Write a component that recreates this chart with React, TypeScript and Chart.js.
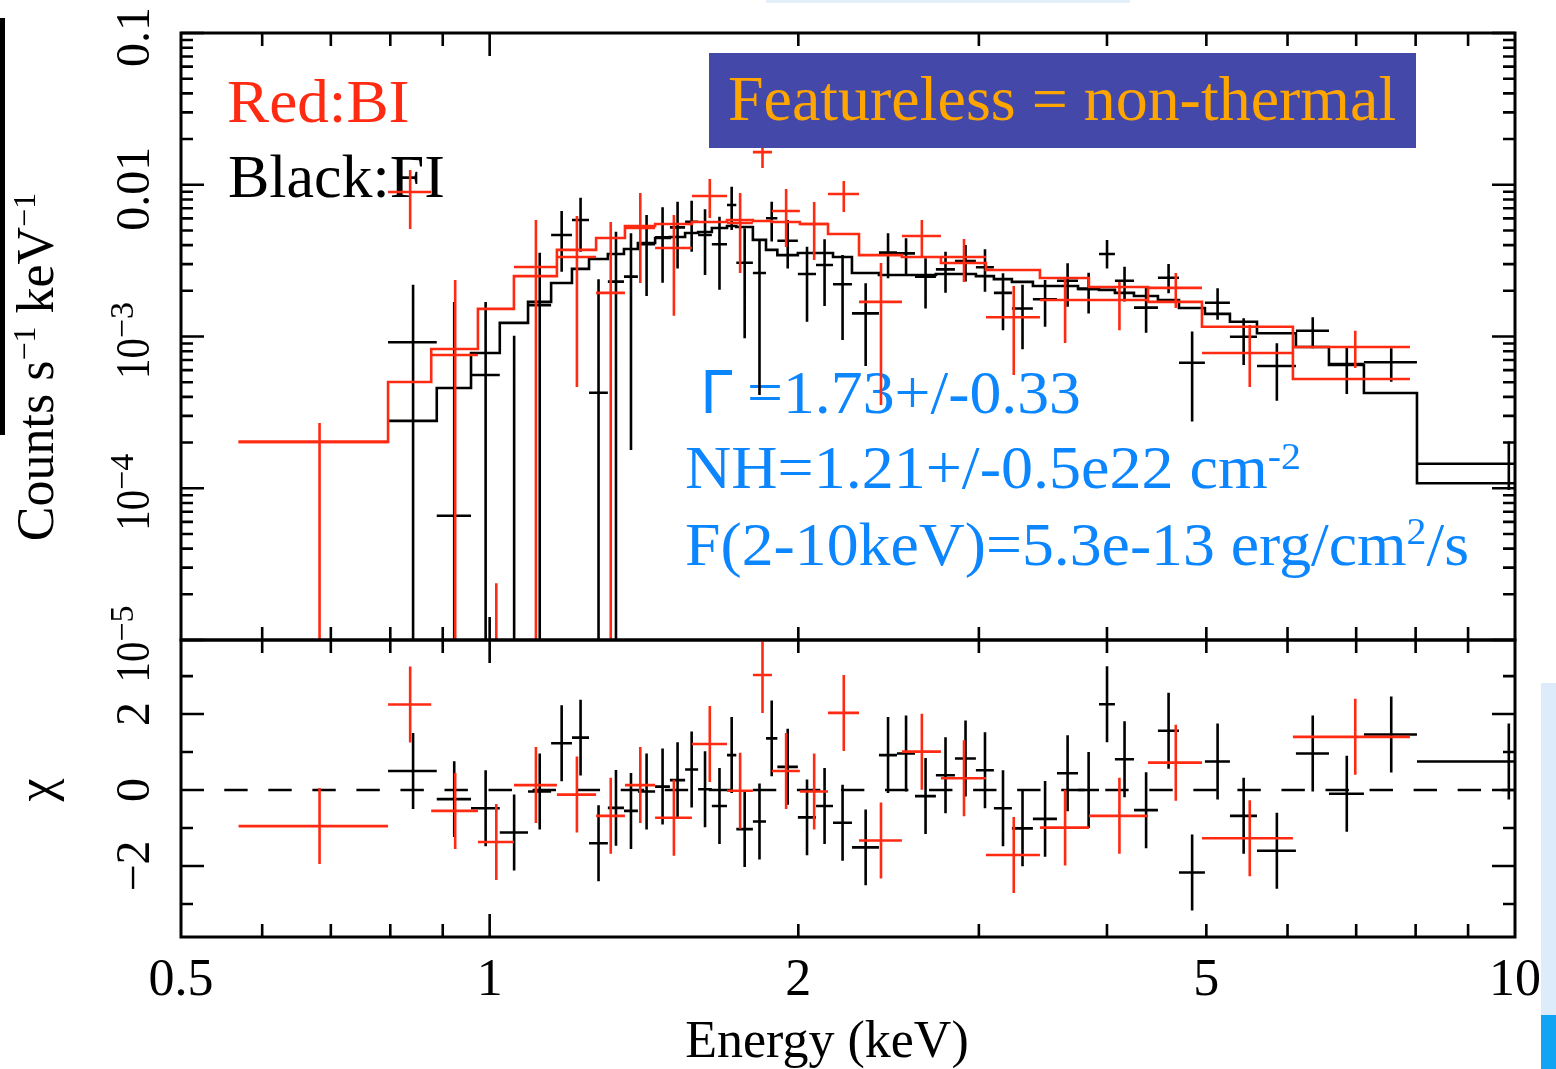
import React, { useEffect, useRef } from 'react';
import { Chart, registerables } from 'chart.js';

Chart.register(...registerables);

// ---------------- axis ranges & ticks ----------------
const ENERGY_MIN = 0.5;
const ENERGY_MAX = 10;
const RATE_MIN = 1e-5;
const RATE_MAX = 0.1;
const CHI_MIN = -3.87;
const CHI_MAX = 3.95;

const X_TICK_VALUES = [0.5, 1, 2, 5, 10];
const X_TICK_LABELS = ['0.5', '1', '2', '5', '10'];
const X_MAJOR_TICKS = [1];
const X_MINOR_TICKS = [0.6, 0.7, 0.8, 0.9, 2, 3, 4, 5, 6, 7, 8, 9];

const RATE_TICK_VALUES = [0.1, 0.01, 1e-3, 1e-4, 1e-5];
const RATE_TICK_LABELS = ['0.1', '0.01', '10^−3', '10^−4', '10^−5'];
const RATE_MINOR_MULTIPLIERS = [2, 3, 4, 5, 6, 7, 8, 9];

const CHI_TICK_VALUES = [2, 0, -2];
const CHI_TICK_LABELS = ['2', '0', '−2'];
const CHI_MINOR_TICKS = [-3, -1, 1, 3];
const CHI_ZERO_LINE_E = [0.551, 10];

// ---------------- BI (red) spectrum ----------------
const RED_EDGES = [0.569, 0.796, 0.877, 0.974, 1.056, 1.163, 1.270, 1.355, 1.450, 1.575, 1.704, 1.806, 1.885,
  2.007, 2.138, 2.292, 2.524, 2.755, 3.048, 3.441, 3.841, 4.386, 4.951, 6.073, 7.898];
const RED_RATE = [2.02e-4, 8.96e-3, 7.55e-4, 1e-6, 2.87e-3, 3.34e-3, 1.94e-3, 5.19e-3, 3.83e-3, 8.43e-3, 5.60e-3,
  1.64e-2, 6.71e-3, 5.51e-3, 8.69e-3, 1.69e-3, 4.60e-3, 3.34e-3, 1.34e-3, 1.74e-3, 1.74e-3, 2.09e-3, 7.78e-4, 8.52e-4];
const RED_ERR_LOW = [1e-6, 5.11e-3, 1e-6, 1e-6, 1e-6, 4.65e-4, 1e-6, 2.25e-3, 1.37e-3, 6.04e-3, 2.62e-3,
  1.29e-2, 3.89e-3, 3.19e-3, 6.61e-3, 3.54e-4, 3.29e-3, 2.29e-3, 5.58e-4, 9.06e-4, 1.10e-3, 1.54e-3, 4.65e-4, 6.20e-4];
const RED_ERR_HIGH = [2.69e-4, 1.25e-2, 2.36e-3, 2.37e-5, 5.86e-3, 6.22e-3, 5.68e-3, 8.82e-3, 6.32e-3, 1.09e-2, 8.82e-3,
  1.94e-2, 9.38e-3, 7.70e-3, 1.06e-2, 3.05e-3, 5.86e-3, 4.39e-3, 2.15e-3, 2.43e-3, 2.29e-3, 2.62e-3, 1.19e-3, 1.09e-3];
const RED_MODEL = [2.02e-4, 5.01e-4, 8.27e-4, 1.52e-3, 2.50e-3, 3.72e-3, 4.46e-3, 5.35e-3, 5.51e-3, 5.68e-3, 5.86e-3,
  5.77e-3, 5.68e-3, 5.51e-3, 4.74e-3, 3.44e-3, 3.34e-3, 3.05e-3, 2.74e-3, 2.43e-3, 2.12e-3, 1.69e-3, 1.16e-3, 5.25e-4];
const RED_CHI = [-0.95, 2.25, -0.55, -1.37, 0.13, -0.12, -0.68, 0.13, -0.73, 1.21, -0.02, 3.03, 0.5, -0.04, 2.03,
  -1.33, 1.01, 0.31, -1.71, -0.99, -0.68, 0.72, -1.27, 1.4];

// ---------------- FI (black) spectrum ----------------
const BLACK_EDGES = [0.796, 0.888, 0.959, 1.023, 1.090, 1.148, 1.203, 1.250, 1.304, 1.352, 1.395, 1.450, 1.499,
  1.551, 1.597, 1.647, 1.704, 1.740, 1.806, 1.860, 1.908, 1.998, 2.081, 2.162, 2.256, 2.397, 2.496, 2.599, 2.724,
  2.843, 2.980, 3.103, 3.231, 3.387, 3.575, 3.748, 3.929, 4.072, 4.250, 4.485, 4.702, 4.984, 5.272, 5.602, 6.114,
  6.585, 7.123, 8.024, 11.7];
const BLACK_RATE = [9.16e-4, 6.59e-5, 5.58e-4, 1e-6, 1.61e-3, 4.67e-3, 5.86e-3, 4.26e-4, 2.30e-3, 2.48e-3, 4.05e-3,
  4.51e-3, 5.24e-3, 5.71e-3, 4.67e-3, 4.05e-3, 7.35e-3, 3.06e-3, 2.62e-3, 6.01e-3, 4.28e-3, 2.58e-3, 2.96e-3,
  2.21e-3, 1.42e-3, 3.57e-3, 3.53e-3, 2.48e-3, 2.77e-3, 3.14e-3, 2.86e-3, 1.94e-3, 1.53e-3, 1.76e-3, 2.33e-3,
  2.06e-3, 3.50e-3, 2.33e-3, 1.55e-3, 2.44e-3, 6.72e-4, 1.67e-3, 9.97e-4, 6.39e-4, 1.09e-3, 6.59e-4, 6.76e-4, 1.45e-4];
const BLACK_ERR_LOW = [1e-6, 1e-6, 1e-6, 1e-6, 1e-6, 2.67e-3, 3.62e-3, 1e-6, 1e-6, 1.79e-4, 1.85e-3, 2.26e-3,
  2.81e-3, 3.62e-3, 2.54e-3, 2.03e-3, 5.03e-3, 9.73e-4, 4.12e-4, 4.22e-3, 2.81e-3, 1.25e-3, 1.59e-3, 9.48e-4,
  6.39e-4, 2.42e-3, 2.54e-3, 1.53e-3, 1.94e-3, 2.30e-3, 1.97e-3, 1.10e-3, 8.23e-4, 1.16e-3, 1.57e-3, 1.42e-3,
  2.81e-3, 1.70e-3, 1.06e-3, 1.93e-3, 2.75e-4, 1.29e-3, 6.49e-4, 3.77e-4, 8.36e-4, 4.18e-4, 5.04e-4, 9.74e-5];
const BLACK_ERR_HIGH = [2.19e-3, 1.69e-3, 1.69e-3, 1.01e-3, 3.57e-3, 6.71e-3, 8.22e-3, 2.38e-3, 4.91e-3, 4.79e-3,
  6.32e-3, 7.10e-3, 7.73e-3, 7.85e-3, 6.89e-3, 6.16e-3, 9.71e-3, 5.16e-3, 4.33e-3, 7.73e-3, 5.86e-3, 3.91e-3,
  4.37e-3, 3.44e-3, 2.24e-3, 4.79e-3, 4.44e-3, 3.28e-3, 3.62e-3, 4.01e-3, 3.76e-3, 2.61e-3, 2.19e-3, 2.36e-3,
  3.04e-3, 2.63e-3, 4.33e-3, 2.88e-3, 2.13e-3, 3.01e-3, 1.08e-3, 2.08e-3, 1.32e-3, 9.02e-4, 1.34e-3, 8.57e-4,
  8.36e-4, 2.03e-4];
const BLACK_MODEL = [2.78e-4, 4.58e-4, 7.78e-4, 1.23e-3, 1.69e-3, 2.25e-3, 2.79e-3, 3.24e-3, 3.50e-3, 3.77e-3,
  4.13e-3, 4.46e-3, 4.53e-3, 4.81e-3, 4.88e-3, 5.19e-3, 5.35e-3, 5.27e-3, 4.33e-3, 3.72e-3, 3.44e-3, 3.55e-3,
  3.55e-3, 3.34e-3, 2.62e-3, 2.54e-3, 2.54e-3, 2.54e-3, 2.58e-3, 2.58e-3, 2.50e-3, 2.39e-3, 2.29e-3, 2.15e-3,
  2.15e-3, 2.06e-3, 2.03e-3, 1.94e-3, 1.85e-3, 1.74e-3, 1.54e-3, 1.41e-3, 1.25e-3, 1.05e-3, 8.52e-4, 6.49e-4,
  4.24e-4, 1.08e-4];
const BLACK_CHI = [0.5, -0.24, -0.48, -1.12, -0.04, 1.23, 1.38, -1.4, -0.47, -0.55, -0.04, 0.09, 0.26, 0.54, 0.02,
  -0.42, 0.92, -1.03, -0.83, 1.36, 0.61, -0.72, -0.42, -0.86, -1.51, 0.92, 0.96, -0.16, 0.39, 0.83, 0.52, -0.48,
  -1.01, -0.76, 0.44, 0.0, 2.26, 0.81, -0.53, 1.56, -2.17, 0.75, -0.68, -1.6, 0.96, -0.1, 1.46, 0.75];

// ---------------- texts ----------------
const LABEL_RED = 'Red:BI';
const LABEL_BLACK = 'Black:FI';
const BOX_TEXT = 'Featureless = non-thermal';
const FIT_GAMMA = ['Γ', '=1.73+/-0.33'];
const FIT_NH = ['NH=1.21+/-0.5e22 cm', '-2'];
const FIT_FLUX = ['F(2-10keV)=5.3e-13 erg/cm', '2', '/s'];
const Y_TITLE = ['Counts s', '−1', ' keV', '−1'];
const CHI_TITLE = 'χ';
const X_TITLE = 'Energy (keV)';

// ---------------- styling ----------------
const SERIF = '"Liberation Serif", "Times New Roman", Times, serif';
const SANS = '"DejaVu Sans", "Liberation Sans", sans-serif';
const RED = '#ff2a12';
const BLACK = '#000000';
const BLUE = '#0c86ff';
const ORANGE = '#ffa500';
const BOX_FILL = '#4448a8';

const font = (px: number, family = SERIF) => `${px}px ${family}`;

type Part = { text: string; size: number; rise?: number; sx?: number; family?: string };

function partsWidth(ctx: CanvasRenderingContext2D, parts: Part[]) {
  let w = 0;
  for (const p of parts) {
    ctx.font = font(p.size, p.family);
    w += ctx.measureText(p.text).width * (p.sx ?? 1);
  }
  return w;
}

function drawParts(ctx: CanvasRenderingContext2D, parts: Part[], x: number, y: number, center = false) {
  ctx.textAlign = 'left';
  ctx.textBaseline = 'alphabetic';
  let cx = center ? x - partsWidth(ctx, parts) / 2 : x;
  for (const p of parts) {
    ctx.font = font(p.size, p.family);
    const w = ctx.measureText(p.text).width * (p.sx ?? 1);
    ctx.save();
    ctx.translate(cx, y - (p.rise ?? 0));
    ctx.scale(p.sx ?? 1, 1);
    ctx.fillText(p.text, 0, 0);
    ctx.restore();
    cx += w;
  }
}

function drawRotated(ctx: CanvasRenderingContext2D, x: number, y: number, fn: () => void) {
  ctx.save();
  ctx.translate(x, y);
  ctx.rotate(-Math.PI / 2);
  fn();
  ctx.restore();
}

function tickLabelParts(label: string): Part[] {
  if (label.includes('^')) {
    const [base, exp] = label.split('^');
    return [
      { text: base, size: 48, sx: 0.85 },
      { text: exp, size: 34, rise: 16 },
    ];
  }
  return [{ text: label, size: 48 }];
}

function drawFrameAndTicks(chart: any, yMajor: number[], yMinor: number[]) {
  const { ctx, chartArea: a, scales } = chart;
  const xs = scales.x;
  const ys = scales.y;
  ctx.save();
  ctx.strokeStyle = BLACK;
  ctx.lineCap = 'butt';
  ctx.lineWidth = 2.6;
  ctx.beginPath();
  const vTick = (v: number, len: number) => {
    const px = xs.getPixelForValue(v);
    ctx.moveTo(px, a.bottom);
    ctx.lineTo(px, a.bottom - len);
    ctx.moveTo(px, a.top);
    ctx.lineTo(px, a.top + len);
  };
  const hTick = (v: number, len: number) => {
    const py = ys.getPixelForValue(v);
    ctx.moveTo(a.left, py);
    ctx.lineTo(a.left + len, py);
    ctx.moveTo(a.right, py);
    ctx.lineTo(a.right - len, py);
  };
  X_MAJOR_TICKS.forEach((v) => vTick(v, 23));
  X_MINOR_TICKS.forEach((v) => vTick(v, 13));
  yMajor.forEach((v) => hTick(v, 23));
  yMinor.forEach((v) => hTick(v, 12));
  ctx.stroke();
  ctx.lineWidth = 3;
  ctx.strokeRect(a.left, a.top, a.right - a.left, a.bottom - a.top);
  ctx.restore();
}

function crossPoints(edges: number[], values: number[], low: number[], high: number[]) {
  const pts: { x: number; y: number | null }[] = [];
  values.forEach((v, i) => {
    const lo = edges[i];
    const hi = edges[i + 1];
    const mid = (lo + hi) / 2;
    pts.push({ x: lo, y: v }, { x: hi, y: v }, { x: hi, y: null });
    pts.push({ x: mid, y: low[i] }, { x: mid, y: high[i] }, { x: mid, y: null });
  });
  return pts;
}

function stepPoints(edges: number[], model: number[]) {
  const pts = model.map((m, i) => ({ x: edges[i], y: m }));
  pts.push({ x: edges[edges.length - 1], y: model[model.length - 1] });
  return pts;
}

const lineDs = (data: any[], color: string, extra: any = {}) => ({
  type: 'line',
  data,
  borderColor: color,
  backgroundColor: color,
  borderWidth: 2.6,
  pointRadius: 0,
  pointHoverRadius: 0,
  tension: 0,
  fill: false,
  spanGaps: false,
  borderCapStyle: 'butt',
  borderJoinStyle: 'miter',
  clip: 1,
  ...extra,
});

const W = 1556;
const H = 1069;

export default function App() {
  const topRef = useRef<HTMLCanvasElement>(null);
  const botRef = useRef<HTMLCanvasElement>(null);

  useEffect(() => {
    const rateMinor: number[] = [];
    RATE_TICK_VALUES.forEach((d) => {
      if (d < RATE_MAX) RATE_MINOR_MULTIPLIERS.forEach((m) => rateMinor.push(d * m));
    });

    const topPlugin = {
      id: 'topDecor',
      beforeDatasetsDraw(chart: any) {
        const { ctx, scales } = chart;
        ctx.save();
        ctx.fillStyle = BLACK;
        // y tick labels (rotated)
        RATE_TICK_VALUES.forEach((v, i) => {
          const py = scales.y.getPixelForValue(v) + 4;
          drawRotated(ctx, 149, py, () => drawParts(ctx, tickLabelParts(RATE_TICK_LABELS[i]), 0, 0, true));
        });
        // y title
        drawRotated(ctx, 53, 367, () =>
          drawParts(ctx, [
            { text: Y_TITLE[0], size: 52 },
            { text: Y_TITLE[1], size: 32, rise: 18 },
            { text: Y_TITLE[2], size: 52 },
            { text: Y_TITLE[3], size: 32, rise: 18 },
          ], 0, 0, true));
        // legend texts
        ctx.fillStyle = RED;
        drawParts(ctx, [{ text: LABEL_RED, size: 62, sx: 1.02 }], 227, 122);
        ctx.fillStyle = BLACK;
        drawParts(ctx, [{ text: LABEL_BLACK, size: 62 }], 228, 197);
        // fit parameters
        ctx.fillStyle = BLUE;
        drawParts(ctx, [{ text: FIT_GAMMA[0], size: 58, family: SANS }], 700, 413);
        drawParts(ctx, [{ text: FIT_GAMMA[1], size: 61, sx: 1.045 }], 747, 413);
        drawParts(ctx, [
          { text: FIT_NH[0], size: 61, sx: 1.05 },
          { text: FIT_NH[1], size: 38, rise: 19, sx: 1.05 },
        ], 685, 488);
        drawParts(ctx, [
          { text: FIT_FLUX[0], size: 61, sx: 1.045 },
          { text: FIT_FLUX[1], size: 38, rise: 21, sx: 1.045 },
          { text: FIT_FLUX[2], size: 61, sx: 1.045 },
        ], 685, 565);
        ctx.restore();
      },
      afterDatasetsDraw(chart: any) {
        const { ctx } = chart;
        ctx.save();
        ctx.fillStyle = BOX_FILL;
        ctx.fillRect(709, 53, 707, 95);
        ctx.fillStyle = ORANGE;
        drawParts(ctx, [{ text: BOX_TEXT, size: 63, sx: 1.015 }], 728, 120);
        ctx.restore();
        drawFrameAndTicks(chart, RATE_TICK_VALUES, rateMinor);
      },
    };

    const botPlugin = {
      id: 'botDecor',
      beforeDatasetsDraw(chart: any) {
        const { ctx, scales } = chart;
        ctx.save();
        ctx.fillStyle = BLACK;
        CHI_TICK_VALUES.forEach((v, i) => {
          const py = scales.y.getPixelForValue(v);
          drawRotated(ctx, 149, py, () => drawParts(ctx, [{ text: CHI_TICK_LABELS[i], size: 48 }], 0, 0, true));
        });
        drawRotated(ctx, 53, 790, () => drawParts(ctx, [{ text: CHI_TITLE, size: 52 }], 0, 0, true));
        X_TICK_VALUES.forEach((v, i) => {
          const px = scales.x.getPixelForValue(v);
          drawParts(ctx, [{ text: X_TICK_LABELS[i], size: 52 }], px, 995, true);
        });
        drawParts(ctx, [{ text: X_TITLE, size: 52 }], 827, 1057, true);
        ctx.restore();
      },
      afterDatasetsDraw(chart: any) {
        drawFrameAndTicks(chart, CHI_TICK_VALUES, CHI_MINOR_TICKS);
      },
    };

    const common = (padding: any, yScale: any) => ({
      responsive: false,
      maintainAspectRatio: false,
      animation: false,
      devicePixelRatio: 1,
      events: [],
      layout: { padding },
      plugins: { legend: { display: false }, tooltip: { enabled: false }, title: { display: false } },
      scales: {
        x: { type: 'logarithmic', min: ENERGY_MIN, max: ENERGY_MAX, display: false },
        y: yScale,
      },
    });

    const top = new Chart(topRef.current as HTMLCanvasElement, {
      type: 'line',
      data: {
        datasets: [
          lineDs(stepPoints(RED_EDGES, RED_MODEL), RED, { stepped: 'before' }),
          lineDs(crossPoints(RED_EDGES, RED_RATE, RED_ERR_LOW, RED_ERR_HIGH), RED),
          lineDs(stepPoints(BLACK_EDGES, BLACK_MODEL), BLACK, { stepped: 'before' }),
          lineDs(crossPoints(BLACK_EDGES, BLACK_RATE, BLACK_ERR_LOW, BLACK_ERR_HIGH), BLACK),
        ] as any,
      },
      options: common({ left: 181, top: 33, right: W - 1515, bottom: H - 640 },
        { type: 'logarithmic', min: RATE_MIN, max: RATE_MAX, display: false }) as any,
      plugins: [topPlugin],
    });

    const chiLow = (c: number[]) => c.map((v) => v - 1);
    const chiHigh = (c: number[]) => c.map((v) => v + 1);

    const bot = new Chart(botRef.current as HTMLCanvasElement, {
      type: 'line',
      data: {
        datasets: [
          lineDs(crossPoints(RED_EDGES, RED_CHI, chiLow(RED_CHI), chiHigh(RED_CHI)), RED),
          lineDs(crossPoints(BLACK_EDGES, BLACK_CHI, chiLow(BLACK_CHI), chiHigh(BLACK_CHI)), BLACK),
          lineDs(CHI_ZERO_LINE_E.map((e) => ({ x: e, y: 0 })), BLACK,
            { borderDash: [23.4, 20.65], borderWidth: 2.4 }),
        ] as any,
      },
      options: common({ left: 181, top: 640, right: W - 1515, bottom: H - 937 },
        { type: 'linear', min: CHI_MIN, max: CHI_MAX, display: false }) as any,
      plugins: [botPlugin],
    });

    return () => {
      top.destroy();
      bot.destroy();
    };
  }, []);

  return (
    <div style={{ position: 'fixed', left: 0, top: 0, width: W, height: H, background: '#ffffff', overflow: 'hidden' }}>
      <div style={{ position: 'absolute', left: 0, top: 18, width: 5, height: 417, background: '#000' }} />
      <div style={{ position: 'absolute', left: 766, top: 0, width: 364, height: 3, background: '#e3effb' }} />
      <div style={{ position: 'absolute', left: 1541, top: 683, width: 15, height: 332, background: '#dcecfb' }} />
      <div style={{ position: 'absolute', left: 1541, top: 1015, width: 15, height: 54, background: '#12a4f4' }} />
      <canvas ref={topRef} width={W} height={H} style={{ position: 'absolute', left: 0, top: 0 }} />
      <canvas ref={botRef} width={W} height={H} style={{ position: 'absolute', left: 0, top: 0 }} />
    </div>
  );
}
